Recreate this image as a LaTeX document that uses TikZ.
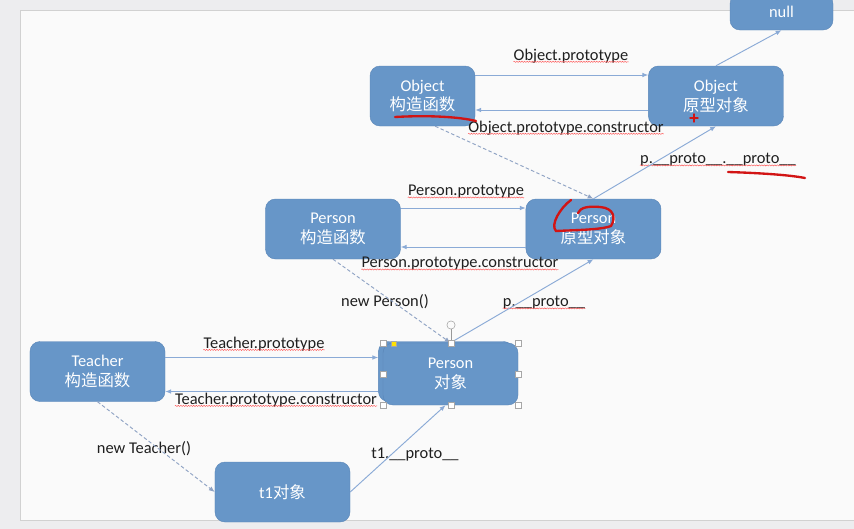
\documentclass[tikz,border=0pt]{standalone}
\usepackage{fontspec}
\setmainfont{Carlito}
\newfontfamily\cjk{Noto Sans CJK SC}
\usetikzlibrary{arrows.meta, positioning, decorations.pathmorphing}
\definecolor{boxfill}{HTML}{6796C8}
\definecolor{boxline}{HTML}{5A86B8}
\definecolor{arrline}{HTML}{8AAAD6}
\definecolor{dashline}{HTML}{8FA3C4}
\definecolor{slidebg}{HTML}{FAFAFA}
\definecolor{outside}{HTML}{EDEDEF}
\definecolor{penred}{HTML}{D21414}

\begin{document}
\begin{tikzpicture}[x=0.03cm, y=-0.03cm,
      box/.style={draw=boxline, fill=boxfill, rounded corners=3mm, minimum width=4.05cm,
                  minimum height=1.8cm, align=center, text=white, inner sep=0pt,
                  font=\fontsize{14}{17}\selectfont},
      arr/.style={-{Latex[length=5pt,width=4pt]}, line width=0.8pt, arrline},
      dasharr/.style={arr, dashline, dash pattern=on 3pt off 2pt},
      lbl/.style={font=\fontsize{14}{17}\selectfont, text=black!88, inner sep=0pt},
      squig/.style={red!70, line width=0.35pt,
                    decorate, decoration={snake, segment length=2.2pt, amplitude=0.5pt}},
      redpen/.style={draw=penred, line width=2pt, line cap=round},
      handle/.style={draw=black!35, fill=white, line width=0.4pt, minimum size=5pt, inner sep=0pt}]
    \useasboundingbox (0,0) rectangle (854,529);
    \clip (0,0) rectangle (854,529);
    \fill[outside] (0,0) rectangle (854,529);
    \filldraw[fill=slidebg, draw=black!18] (20,10) rectangle (870,520);

    % boxes
    \node[box, minimum width=3.09cm, minimum height=1.08cm] (null) at (781.5,12) {null};
    \node[box, minimum width=3.15cm] (objctor) at (422.5,96) {Object\\{\cjk 构造函数}};
    \node[box, right=5.19cm of objctor] (objproto) {Object\\{\cjk 原型对象}};
    \node[box] (perctor) at (333,229) {Person\\{\cjk 构造函数}};
    \node[box, right=3.75cm of perctor] (perproto) {Person\\{\cjk 原型对象}};
    \node[box] (teactor) at (97.5,371.5) {Teacher\\{\cjk 构造函数}};
    \node[box, right=6.39cm of teactor] (perobjback) {};
    \node[box, minimum height=1.86cm] (perobj) at (450.5,374) {Person\\{\cjk 对象}};
    \node[box] (tone) at (282.5,492) {t1{\cjk 对象}};

    % labels
    \node[lbl] (lobjp) at (571,56) {Object.prototype};
    \node[lbl] (lobjc) at (566,128) {Object.prototype.constructor};
    \node[lbl] (lpp) at (718,160) {p.\_\_proto\_\_.\_\_proto\_\_};
    \node[lbl] (lperp) at (466,192) {Person.prototype};
    \node[lbl] (lperc) at (460,264) {Person.prototype.constructor};
    \node[lbl] (lnewp) at (385,302) {new Person()};
    \node[lbl] (lp) at (544,303) {p.\_\_proto\_\_};
    \node[lbl] (lteap) at (264,344) {Teacher.prototype};
    \node[lbl] (lteac) at (276,400) {Teacher.prototype.constructor};
    \node[lbl] (lnewt) at (144,449) {new Teacher()};
    \node[lbl] (lt) at (415,455) {t1.\_\_proto\_\_};
    % spell-check underlines
    \foreach \l in {lobjp, lobjc, lpp, lperp, lperc, lp, lteap, lteac}
      \draw[squig] ([yshift=-1.3pt]\l.base west) -- ([yshift=-1.3pt]\l.base east);

    % connectors
    \draw[arr] ([yshift=6.3mm]objctor.east) -- ([yshift=6.3mm]objproto.west);
    \draw[arr] ([yshift=-4.2mm]objproto.west) -- ([yshift=-4.2mm]objctor.east);
    \draw[arr] (objproto.north) -- (null.south);
    \draw[arr] (perproto.north) -- (objproto.south);
    \draw[dasharr] ([xshift=3.8mm]objctor.south) -- (perproto.north);
    \draw[arr] ([yshift=6.3mm]perctor.east) -- ([yshift=6.3mm]perproto.west);
    \draw[arr] ([yshift=-5.4mm]perproto.west) -- ([yshift=-5.4mm]perctor.east);
    \draw[dasharr] (perctor.south) -- (perobj.north);
    \draw[arr] (perobj.north) -- (perproto.south);
    \draw[arr] ([yshift=4.2mm]teactor.east) -- ([yshift=4.2mm]perobjback.west);
    \draw[arr] ([yshift=-6mm]perobjback.west) -- ([yshift=-6mm]teactor.east);
    \draw[dasharr] (teactor.south) -- (tone.west);
    \draw[arr] (tone.east) -- ([xshift=-1.5mm]perobj.south);

    % selection handles
    \foreach \hx/\hy in {383/343, 451/343, 518/343, 383/374, 518/374, 383/405, 451/405, 518/405}
      \node[handle] (h\hx-\hy) at (\hx,\hy) {};
    \node[handle, circle, minimum size=7pt, fill=none, draw=black!40] (rot) at (451,325) {};
    \draw[black!40, line width=0.4pt] (rot) -- (h451-343);
    \node[handle, fill=yellow!85!orange, minimum size=4pt] (adj) at (394,344) {};

    % red pen marks
    \draw[redpen] (395,117) .. controls (430,115) and (460,117) .. (476,121);
    \draw[redpen, line width=1.2pt] (690,118) -- (698,118) (694,114) -- (694,122);
    \draw[redpen] (728,172) .. controls (760,173) and (790,175) .. (805,178);
    \draw[redpen] (571,200) .. controls (560,208) and (550,225) .. (556,231)
                  .. controls (575,230) and (600,230) .. (611,226)
                  .. controls (616,218) and (614,208) .. (600,207)
                  .. controls (590,206) and (580,207) .. (578,213);
  \end{tikzpicture}
\end{document}
